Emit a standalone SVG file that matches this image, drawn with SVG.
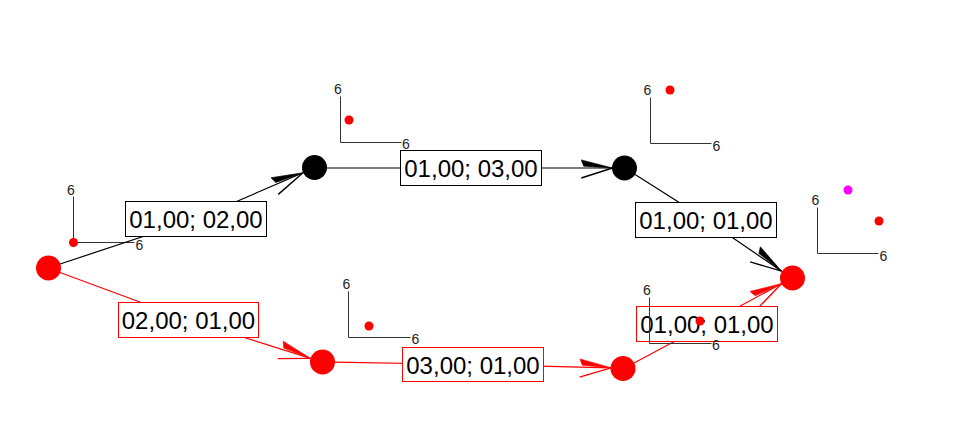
<svg xmlns="http://www.w3.org/2000/svg" width="956" height="436" viewBox="0 0 956 436">
<style>
.bg{fill:#fff}
.e{fill:none;stroke-width:1.2}
.eb{stroke:#000}
.er{stroke:#f00}
.ax{fill:none;stroke:#333;stroke-width:1}
.axt{font-family:"Liberation Sans",Arial,sans-serif;font-size:14px;fill:#222}
.lb{fill:#fff;stroke-width:1}
.lbk{stroke:#000}
.lrd{stroke:#f00}
.lt{font-family:"Liberation Sans",Arial,sans-serif;font-size:24px;fill:#000;text-anchor:middle}
.nb{fill:#000}
.nr{fill:#f00}
.dot{fill:#f00}
.dotm{fill:#f0f}
</style>
<defs>
<marker id="ab" markerUnits="userSpaceOnUse" orient="auto" refX="0" refY="0" markerWidth="40" markerHeight="40" viewBox="-30 -15 32 30" overflow="visible">
<path d="M0,0 L-25,-6.5 L-23,-1.5 Z" fill="#000" stroke="#000" stroke-width="0.5"/>
<path d="M0,0 L-25,8" fill="none" stroke="#000" stroke-width="1.1"/>
</marker>
<marker id="ar" markerUnits="userSpaceOnUse" orient="auto" refX="0" refY="0" markerWidth="40" markerHeight="40" viewBox="-30 -15 32 30" overflow="visible">
<path d="M0,0 L-25,-6.5 L-23,-1.5 Z" fill="#f00" stroke="#f00" stroke-width="0.5"/>
<path d="M0,0 L-25,8" fill="none" stroke="#f00" stroke-width="1.1"/>
</marker>
</defs>
<rect class="bg" x="0" y="0" width="956" height="436"/>

<g id="axes">
<g id="ax1">
<path class="ax" d="M73.5,196.5 V242.5 H134.5"/>
<text class="axt" x="71" y="194.5" text-anchor="middle">6</text>
<text class="axt" x="135.5" y="249.5">6</text>
<circle class="dot" cx="73.5" cy="242.5" r="4.5"/>
</g>
<g id="ax2">
<path class="ax" d="M340.5,96.5 V142.5 H401.5"/>
<text class="axt" x="338" y="93.5" text-anchor="middle">6</text>
<text class="axt" x="402" y="149">6</text>
<circle class="dot" cx="349" cy="120" r="4.5"/>
</g>
<g id="ax3">
<path class="ax" d="M650.5,97.5 V143.5 H711.5"/>
<text class="axt" x="647.5" y="94.5" text-anchor="middle">6</text>
<text class="axt" x="712.5" y="150.5">6</text>
<circle class="dot" cx="670" cy="90" r="4.5"/>
</g>
<g id="ax4">
<path class="ax" d="M817.5,207.5 V253.5 H878.5"/>
<text class="axt" x="815.5" y="205" text-anchor="middle">6</text>
<text class="axt" x="879.5" y="260.5">6</text>
<circle class="dotm" cx="848" cy="190" r="4.5"/>
<circle class="dot" cx="879" cy="221" r="4.5"/>
</g>
<g id="ax5">
<path class="ax" d="M348.5,291.5 V337.5 H410.5"/>
<text class="axt" x="346.5" y="289" text-anchor="middle">6</text>
<text class="axt" x="411.5" y="344">6</text>
<circle class="dot" cx="369" cy="326" r="4.5"/>
</g>
</g>

<g id="connectors">
<path id="e-ab" class="e eb" d="M59.4,264.2 L196,219 L303,172.8" marker-end="url(#ab)"/>
<path id="e-bc" class="e eb" d="M326,168 L471,168 L612.5,168" marker-end="url(#ab)"/>
<path id="e-cd" class="e eb" d="M635.1,174.4 L706,219.5 L781.6,271.2" marker-end="url(#ab)"/>
<path id="e-ae" class="e er" d="M59.3,272.2 L188.5,320 L310.6,358.4" marker-end="url(#ar)"/>
<path id="e-ef" class="e er" d="M334,362.2 L473,364.5 L611,367.8" marker-end="url(#ar)"/>
<path id="e-fd" class="e er" d="M633.6,363.3 L707,324 L781.4,283.7" marker-end="url(#ar)"/>
</g>

<g id="labels">
<g id="l-ab"><rect class="lb lbk" x="125.5" y="201.5" width="141" height="35"/><text class="lt" x="196" y="228">01,00; 02,00</text></g>
<g id="l-bc"><rect class="lb lbk" x="400.5" y="150.5" width="141" height="35"/><text class="lt" x="471" y="177">01,00; 03,00</text></g>
<g id="l-cd"><rect class="lb lbk" x="635.5" y="202.5" width="141" height="35"/><text class="lt" x="706" y="229">01,00; 01,00</text></g>
<g id="l-ae"><rect class="lb lrd" x="118.5" y="302.5" width="140" height="35"/><text class="lt" x="188.5" y="329">02,00; 01,00</text></g>
<g id="l-ef"><rect class="lb lrd" x="402.5" y="347.5" width="141" height="34"/><text class="lt" x="473" y="373.5">03,00; 01,00</text></g>
<g id="l-fd"><rect class="lb lrd" x="636.5" y="306.5" width="141" height="35"/><text class="lt" x="707" y="333">01,00; 01,00</text></g>
</g>

<g id="ax6">
<path class="ax" d="M649.5,297.5 V343.5 H711.5"/>
<text class="axt" x="647" y="295" text-anchor="middle">6</text>
<text class="axt" x="712" y="350">6</text>
<circle class="dot" cx="700" cy="321" r="4.5"/>
</g>

<g id="nodes">
<g id="n-a"><circle class="nr" cx="48.5" cy="268" r="12.5"/></g>
<g id="n-b"><circle class="nb" cx="314.5" cy="167.5" r="12.5"/></g>
<g id="n-c"><circle class="nb" cx="624.5" cy="168" r="12.5"/></g>
<g id="n-d"><circle class="nr" cx="792.5" cy="278" r="12.5"/></g>
<g id="n-e"><circle class="nr" cx="322.5" cy="362" r="12.5"/></g>
<g id="n-f"><circle class="nr" cx="623" cy="368.5" r="12.5"/></g>
</g>
</svg>
